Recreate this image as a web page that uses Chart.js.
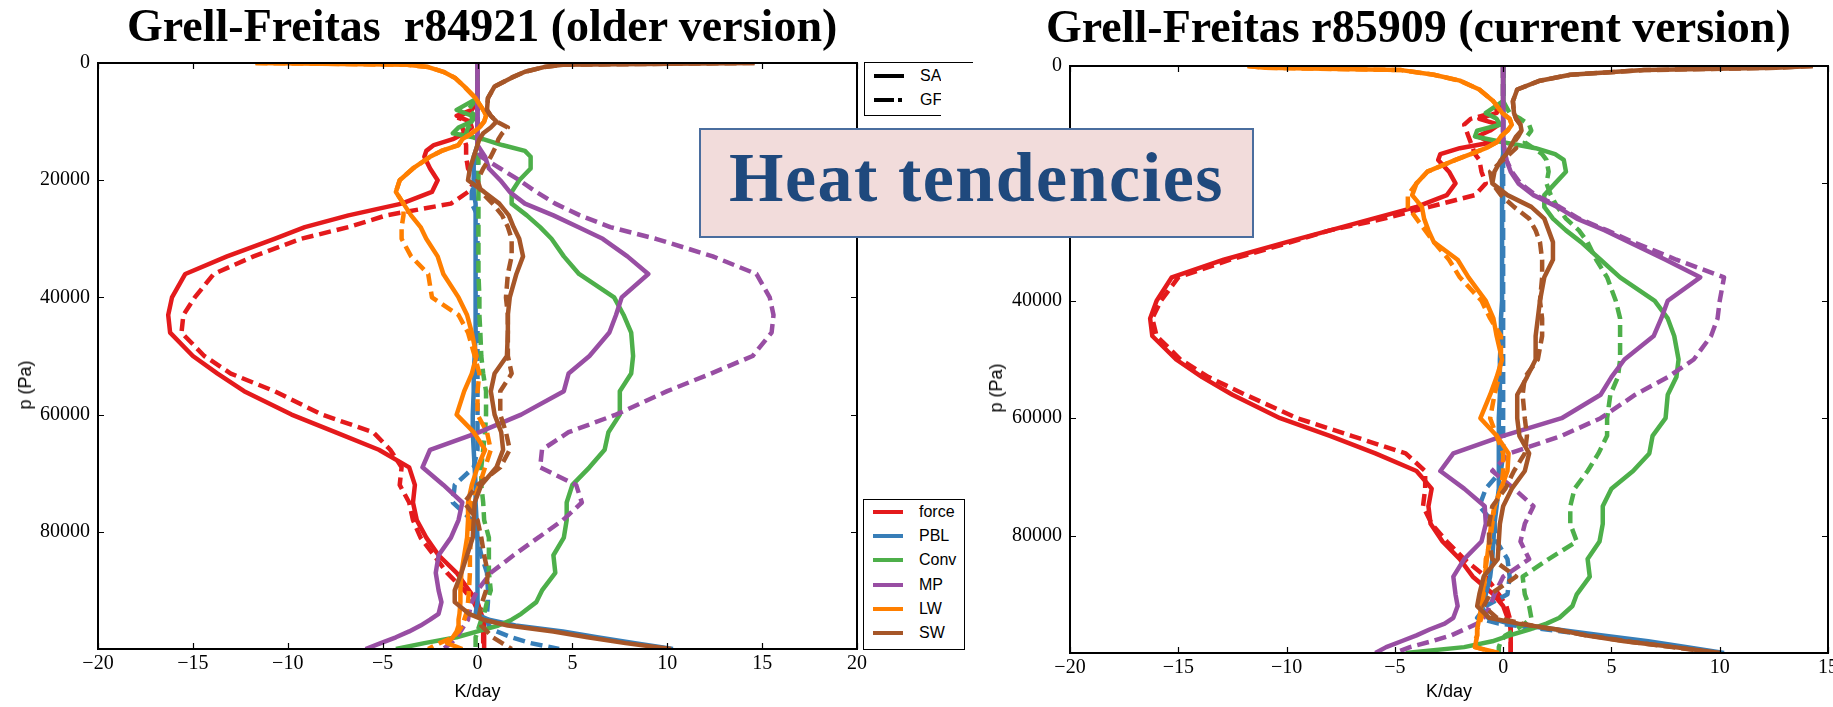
<!DOCTYPE html>
<html>
<head>
<meta charset="utf-8">
<title>Heat tendencies</title>
<script src="https://cdn.jsdelivr.net/npm/chart.js@4.4.1/dist/chart.umd.min.js"></script>
<style>
  html, body { margin: 0; padding: 0; background: #fff; overflow: hidden; }
  body { position: relative; width: 1833px; height: 707px; font-family: 'Liberation Sans', Arial, sans-serif; }
  canvas { position: absolute; top: 0; }
  #cOld { left: 0; }
  #cNew { left: 960px; }
  .title { position: absolute; font-family: 'Liberation Serif', serif; font-weight: bold; font-size: 46px;
           line-height: 46px; white-space: pre; color: #000; }
  .ylab { position: absolute; font-size: 18px; line-height: 18px; white-space: pre;
          transform: translate(-50%, -50%) rotate(-90deg); }
  .leg { position: absolute; border: 1px solid #000; background: #fff; overflow: hidden; }
  .leg .row { position: absolute; left: 0; height: 20px; font-size: 16px; line-height: 20px; }
  .leg .swatch { position: absolute; left: 9px; top: 8px; width: 30px; height: 4px; }
  .leg .txt { position: absolute; left: 55px; top: 0; white-space: pre; }
  #heatBox { position: absolute; left: 699px; top: 128px; width: 551px; height: 106px;
             background: #f2dcdb; border: 2px solid #4a6d9e; }
  #heatText { position: absolute; left: 699px; top: 143px; width: 555px; text-align: center;
              font-family: 'Liberation Serif', serif; font-weight: bold; font-size: 70px; line-height: 70px;
              letter-spacing: 1.5px; color: #1f497d; white-space: pre; }
</style>
</head>
<body>
<canvas id="cOld" width="880" height="707"></canvas>
<canvas id="cNew" width="900" height="707"></canvas>

<div class="title" style="left:127px; top:3px;">Grell-Freitas  r84921 (older version)</div>
<div class="title" style="left:1046px; top:4px;">Grell-Freitas r85909 (current version)</div>
<div class="ylab" style="left:25px; top:385px;">p (Pa)</div>
<div class="ylab" style="left:996px; top:388px;">p (Pa)</div>

<div id="styleLeg" class="leg" style="left:864px; top:62px; width:76px; height:52px; border-right:none;"></div>
<div style="position:absolute; left:940px; top:62px; width:33px; height:1px; background:#000;"></div>
<div id="varLeg" class="leg" style="left:863px; top:499px; width:100px; height:149px;"></div>

<div id="heatBox"></div>
<div id="heatText">Heat tendencies</div>

<script>
// pressure levels (Pa), shared by every profile
const P_LEVELS = [
  0, 300, 700, 1500, 2500, 4000, 6000, 8000, 9000, 10000,
  11000, 12000, 13000, 14000, 15000, 16000, 18000, 20000, 22000, 24000,
  26000, 28000, 30000, 33000, 36000, 40000, 43000, 46000, 50000, 53000,
  56000, 60000, 63000, 66000, 69000, 72000, 75000, 78000, 81000, 84000,
  87000, 90000, 92000, 94000, 95000, 96000, 97000, 98000, 99000, 100000
];

const VARS = ['force', 'PBL', 'Conv', 'MP', 'LW', 'SW'];
const COLORS = ['#e41a1c', '#377eb8', '#4daf4a', '#984ea3', '#ff7f00', '#a65628'];
const STYLES = ['SA', 'GF'];

// ---- r84921 (older version), K/day ----
const forceSA_old = [
  0, 0, 0, 0, 0, 0, 0, -0.3, -1.1, -0.4,
  -0.3, -0.7, -1.3, -2.3, -2.7, -2.8, -2.5, -2.1, -2.4, -4.0,
  -6.8, -9.1, -10.7, -13.2, -15.4, -16.1, -16.3, -16.2, -15.0, -13.7,
  -12.3, -9.8, -7.5, -5.2, -3.6, -3.3, -3.4, -3.2, -2.7, -2.05,
  -1.1, -0.45, 0, 0.2, 0.3, 0.35, 0.35, 0.35, 0.35, 0.35
];
const forceGF_old = [
  0, 0, 0, 0, 0, 0, 0, -0.3, -0.9, -1.0,
  -0.8, -0.7, -0.7, -0.6, -0.6, -0.6, -0.5, -0.1, -0.5, -1.4,
  -4.8, -6.8, -9.3, -11.8, -13.9, -14.9, -15.5, -15.6, -14.4, -13.0,
  -10.7, -8.2, -5.5, -4.6, -4.0, -4.1, -3.6, -3.4, -3.0, -2.3,
  -1.6, -0.7, -0.2, 0.1, 0.3, 0.3, 0.3, 0.3, 0.3, 0.3
];
const pblSA_old = [
  0, 0, 0, 0, 0, 0, 0, 0, 0, 0,
  0, 0, 0, 0, -0.1, -0.2, -0.2, -0.2, -0.2, -0.1,
  -0.1, -0.1, -0.1, -0.1, -0.1, -0.1, -0.1, -0.1, -0.15, -0.2,
  -0.2, -0.25, -0.25, -0.2, -0.15, -0.1, -0.1, -0.05, 0, 0,
  0, 0, 0, -0.1, 0.6, 2.0, 4.5, 6.3, 8.3, 10.3
];
const pblGF_old = [
  0, 0, 0, 0, 0, 0, 0, 0, 0, 0,
  0, 0, 0, 0, 0, 0, 0, -0.1, -0.3, -0.3,
  0, 0, 0, 0, 0, 0, 0, 0, 0, 0,
  0, 0, 0, 0, -0.2, -1.2, -1.3, -0.3, 0, 0.2,
  0.5, 0.55, 0.55, 0.5, 0.5, 0.6, 1.0, 1.8, 2.8, 4.3
];
const convSA_old = [
  0, 0, 0, 0, 0, 0, 0, -1.1, -0.3, -0.3,
  -1.0, -1.3, 0.3, 1.3, 2.5, 2.8, 2.8, 2.2, 1.8, 1.8,
  2.6, 3.3, 3.9, 4.55, 5.35, 7.2, 7.7, 8.1, 8.2, 8.1,
  7.5, 7.5, 6.9, 6.7, 5.9, 5.0, 4.7, 4.7, 4.55, 4.0,
  4.1, 3.4, 3.1, 2.3, 1.8, 1.1, 0, -1.1, -2.8, -4.3
];
const convGF_old = [
  0, 0, 0, 0, 0, 0, 0, -0.5, -0.1, -0.1,
  -0.5, -0.6, 0, 0, 0.05, 0.05, 0.05, 0.05, 0.05, 0.05,
  0.05, 0.05, 0.05, 0.05, 0.05, 0.1, 0.1, 0.15, 0.2, 0.3,
  0.45, 0.45, 0.4, 0.3, 0.2, 0.2, 0.3, 0.35, 0.6, 0.6,
  0.6, 0.7, 0.5, 0.35, 0.2, 0.1, 0, -0.1, -0.1, -0.1
];
const mpSA_old = [
  0, 0, 0, 0, 0, 0, 0, 0, 0, 0,
  0, 0, 0, 0, 0.2, 0.4, 0.6, 1.2, 1.7, 2.5,
  4.0, 5.3, 6.6, 7.9, 9.0, 7.6, 7.3, 6.95, 5.9, 4.8,
  4.55, 2.3, 0.1, -2.5, -2.9, -1.8, -0.8, -1.0, -1.4, -2.05,
  -2.2, -2.05, -1.9, -2.05, -2.5, -3.0, -3.6, -4.3, -5.1, -5.9
];
const mpGF_old = [
  0, 0, 0, 0, 0, 0, 0, 0, 0, 0,
  0, 0, 0, 0, 0, 0.2, 1.2, 2.2, 3.1, 4.1,
  5.4, 7.0, 9.4, 12.4, 14.7, 15.4, 15.6, 15.5, 14.5, 12.3,
  10.0, 7.3, 4.8, 3.4, 3.3, 5.2, 5.5, 4.5, 3.2, 1.9,
  0.7, 0, -0.3, -0.45, -0.5, -0.7, -0.9, -1.1, -1.4, -1.8
];
const lwSA_old = [
  -11.7, -3.7, -2.6, -1.8, -1.2, -0.7, -0.1, 0.3, 0.45, 0.35,
  0.1, -0.3, -0.8, -1.0, -1.9, -2.5, -3.4, -4.1, -4.3, -3.9,
  -3.5, -3.0, -2.7, -2.1, -1.8, -1.0, -0.55, -0.3, -0.05, -0.3,
  -0.7, -1.1, -0.2, 0.4, 0, -0.3, -0.5, -0.5, -0.55, -0.7,
  -0.85, -0.9, -0.9, -0.95, -1.0, -1.0, -1.1, -1.3, -1.6, -0.8
];
const lwGF_old = [
  -11.7, -3.7, -2.6, -1.8, -1.2, -0.7, -0.1, 0.3, 0.45, 0.35,
  0.1, -0.3, -0.8, -1.0, -1.9, -2.5, -3.4, -4.1, -4.3, -3.9,
  -3.9, -4.0, -4.0, -3.5, -2.6, -2.4, -1.0, -0.5, -0.15, 0.1,
  0, 0, 0.5, 0.7, 0.4, 0.1, -0.3, -0.35, -0.35, -0.4,
  -0.4, -0.45, -0.5, -0.6, -0.7, -0.8, -1.0, -1.3, -2.0, -2.6
];
const swSA_old = [
  14.6, 4.5, 3.5, 2.5, 1.8, 0.9, 0.55, 0.5, 0.7, 1.0,
  0.7, 0.3, 0.1, 0, -0.1, -0.2, -0.4, -0.5, 0.35, 1.15,
  1.65, 1.9, 2.2, 2.4, 2.05, 1.7, 1.6, 1.6, 1.55, 0.9,
  0.7, 0.9, 1.25, 1.35, 1.0, 0.2, -0.15, -0.2, -0.25, -0.55,
  -0.85, -1.2, -1.2, -0.45, 0.3, 1.6, 4.0, 5.8, 7.8, 10.2
];
const swGF_old = [
  14.6, 4.5, 3.5, 2.5, 1.8, 0.9, 0.55, 0.5, 0.7, 1.0,
  1.6, 1.3, 1.1, 1.0, 0.85, 0.7, 0.3, 0, 0.2, 0.8,
  1.3, 1.6, 1.8, 1.8, 1.6, 1.5, 1.6, 1.6, 1.6, 1.8,
  1.2, 1.2, 1.5, 1.7, 1.2, 0, -0.7, 0, 0.2, 0.35,
  0.55, 0.45, 0.25, 0.1, 0.1, 0.2, 0.5, 0.8, 1.3, 1.8
];

// ---- r85909 (current version), K/day ----
const forceSA_new = [
  0, 0, 0, 0, 0, 0, 0, -0.3, -1.1, -0.2,
  -0.6, -1.2, -0.5, -2.0, -2.9, -3.0, -2.5, -2.2, -2.6, -4.0,
  -6.0, -8.0, -10.0, -12.9, -15.3, -16.0, -16.3, -16.2, -15.1, -13.9,
  -12.5, -10.3, -8.0, -5.9, -4.0, -3.3, -3.45, -3.35, -2.8, -2.0,
  -1.4, -0.45, 0, 0.2, 0.3, 0.35, 0.35, 0.35, 0.35, 0.35
];
const forceGF_new = [
  0, 0, 0, 0, 0, 0, 0, -0.5, -1.5, -1.8,
  -1.7, -1.6, -1.5, -1.4, -1.3, -1.1, -1.0, -0.8, -1.3, -3.4,
  -5.5, -8.0, -9.8, -12.6, -15.0, -15.8, -16.2, -16.0, -14.9, -13.6,
  -11.9, -9.5, -7.0, -4.5, -3.6, -3.6, -3.7, -3.3, -2.6, -1.8,
  -0.8, -0.2, 0.15, 0.3, 0.35, 0.35, 0.35, 0.35, 0.35, 0.35
];
const pblSA_new = [
  0, 0, 0, 0, 0, 0, 0, 0, 0, 0,
  0, 0, 0, 0, 0, -0.05, -0.05, -0.05, -0.05, -0.05,
  -0.05, -0.05, -0.05, -0.05, -0.05, -0.05, -0.1, -0.1, -0.15, -0.15,
  -0.15, -0.2, -0.2, -0.2, -0.2, -0.2, -0.3, -0.4, -0.45, -0.5,
  -0.6, -0.8, -1.0, -0.7, 0.3, 2.5, 4.6, 6.7, 8.5, 10.2
];
const pblGF_new = [
  0, 0, 0, 0, 0, 0, 0, 0, 0, 0,
  0, 0, 0, 0, 0, 0, 0, 0, 0, 0,
  0, 0, 0, 0, 0, 0, 0, 0, 0, 0,
  0, 0, 0, 0, -0.1, -0.8, -1.1, -0.4, -0.3, 0.2,
  0.3, 0.2, -0.8, -1.2, -0.2, 2.0, 4.2, 6.2, 8.2, 10.0
];
const convSA_new = [
  0, 0, 0, 0, 0, 0, 0, -0.8, -0.3, -0.15,
  -1.2, -1.3, 0, 1.5, 2.4, 2.8, 2.9, 2.4, 1.9, 1.9,
  2.3, 2.9, 3.6, 4.5, 5.4, 7.0, 7.6, 7.9, 8.1, 8.0,
  7.6, 7.5, 6.9, 6.75, 6.0, 5.0, 4.6, 4.6, 4.45, 3.9,
  4.0, 3.4, 3.2, 2.6, 2.0, 1.2, 0.3, -0.5, -1.8, -4.5
];
const convGF_new = [
  0, 0, 0, 0, 0, 0, 0, 0.3, 0.8, 1.2,
  1.3, 1.1, 1.0, 1.4, 1.8, 2.0, 2.1, 2.0, 2.2, 2.5,
  2.9, 3.5, 3.9, 4.3, 4.8, 5.2, 5.4, 5.4, 5.4, 5.3,
  4.95, 4.8, 4.8, 4.4, 3.9, 3.3, 3.1, 3.1, 3.4, 2.1,
  0.9, 1.0, 1.2, 1.3, 1.0, 0.6, 0.1, -0.1, -0.2, -0.2
];
const mpSA_new = [
  0, 0, 0, 0, 0, 0, 0, 0, 0, 0,
  0, 0, 0, 0.05, 0.1, 0.15, 0.35, 0.7, 1.4, 2.5,
  3.4, 4.7, 5.8, 7.5, 9.1, 7.6, 7.3, 6.95, 5.6, 5.0,
  4.5, 2.7, 0.0, -2.3, -2.9, -1.8, -0.85, -0.8, -1.0, -1.8,
  -2.3, -2.2, -2.1, -2.3, -2.7, -3.4, -4.0, -4.7, -5.4, -5.9
];
const mpGF_new = [
  0, 0, 0, 0, 0, 0, 0, 0, 0, 0,
  0, 0, 0, 0.05, 0.1, 0.15, 0.4, 0.8, 1.5, 2.6,
  3.5, 4.8, 6.0, 8.0, 10.2, 10.0, 9.9, 9.6, 8.8, 7.6,
  6.1, 4.5, 2.7, 0.3, -0.5, 0.5, 1.4, 1.0, 0.8, 1.2,
  0.0, -0.4, -0.6, -0.9, -1.2, -1.8, -2.4, -3.3, -4.3, -5.0
];
const lwSA_new = [
  -11.8, -11.0, -4.7, -3.2, -2.0, -1.1, -0.45, -0.05, 0.3, 0.4,
  0.2, -0.1, -0.3, -0.8, -1.5, -2.2, -3.5, -4.0, -4.2, -3.75,
  -3.65, -3.45, -3.2, -2.1, -1.6, -0.8, -0.45, -0.3, -0.05, -0.3,
  -0.6, -1.05, -0.3, 0.25, 0.2, -0.1, -0.4, -0.55, -0.65, -0.75,
  -0.85, -0.95, -1.0, -1.1, -1.15, -1.2, -1.2, -1.25, -1.3, -0.2
];
const lwGF_new = [
  -11.8, -11.0, -4.7, -3.2, -2.0, -1.1, -0.45, -0.05, 0.3, 0.4,
  0.2, -0.1, -0.3, -0.8, -1.5, -2.2, -3.5, -4.0, -4.4, -4.4,
  -4.0, -3.6, -3.2, -2.5, -2.0, -1.0, -0.6, -0.1, -0.1, -0.2,
  -0.4, -0.6, -0.3, 0.0, 0.0, -0.1, -0.4, -0.5, -0.6, -0.8,
  -0.85, -0.9, -1.0, -1.0, -1.1, -1.2, -1.2, -1.3, -1.3, -0.3
];
const swSA_new = [
  14.3, 12.6, 6.5, 3.1, 1.7, 0.65, 0.45, 0.5, 0.6, 0.8,
  0.85, 0.6, 0.45, 0.3, 0.15, -0.1, -0.4, -0.5, 0.2, 1.3,
  1.9, 2.1, 2.3, 2.3, 1.9, 1.7, 1.6, 1.5, 1.5, 1.1,
  0.65, 0.65, 0.75, 1.2, 1.0, 0.4, 0.0, -0.15, -0.2, -0.25,
  -0.9, -1.1, -1.2, -0.65, 0.7, 2.5, 3.8, 5.6, 7.9, 10.05
];
const swGF_new = [
  14.3, 12.6, 6.5, 3.1, 1.7, 0.65, 0.45, 0.5, 0.6, 0.8,
  0.85, 0.7, 0.5, 0.6, 0.3, 0.0, -0.6, -0.5, -0.1, 0.5,
  1.2, 1.5, 1.7, 1.8, 1.8, 1.7, 1.8, 1.8, 1.6, 1.0,
  0.9, 1.0, 1.1, 1.0, 0.5, 0.1, -0.5, -0.65, -0.65, -0.5,
  0.6, -0.6, -0.9, -0.3, 0.9, 2.3, 3.9, 5.7, 7.8, 9.9
];

const OLD_SERIES = [
  [forceSA_old, forceGF_old], [pblSA_old, pblGF_old], [convSA_old, convGF_old],
  [mpSA_old, mpGF_old], [lwSA_old, lwGF_old], [swSA_old, swGF_old]
];
const NEW_SERIES = [
  [forceSA_new, forceGF_new], [pblSA_new, pblGF_new], [convSA_new, convGF_new],
  [mpSA_new, mpGF_new], [lwSA_new, lwGF_new], [swSA_new, swGF_new]
];

const DASH = [12, 6];

function buildDatasets(series) {
  const out = [];
  series.forEach((pair, v) => {
    pair.forEach((vals, s) => {
      const n = v * 2 + s;  // matplotlib draw sequence, later = on top
      out.push({
        label: VARS[v] + ' ' + STYLES[s],
        data: P_LEVELS.map((p, i) => ({ x: vals[i], y: p })),
        showLine: true,
        borderColor: COLORS[v],
        backgroundColor: COLORS[v],
        borderWidth: 4.5,
        borderDash: s ? DASH : [],
        borderJoinStyle: 'round',
        pointRadius: 0,
        tension: 0,
        order: 100 - n
      });
    });
  });
  return out;
}

// box around plot area plus inward tick marks on all four sides
const framePlugin = {
  id: 'frame',
  afterDatasetsDraw(chart) {
    const { ctx, chartArea: a, scales } = chart;
    const x = scales.x, y = scales.y;
    ctx.save();
    ctx.strokeStyle = '#000';
    ctx.lineWidth = 1.2;
    ctx.beginPath();
    x.ticks.forEach(t => {
      const px = Math.round(x.getPixelForValue(t.value)) + 0.5;
      ctx.moveTo(px, a.bottom); ctx.lineTo(px, a.bottom - 6);
      ctx.moveTo(px, a.top); ctx.lineTo(px, a.top + 6);
    });
    y.ticks.forEach(t => {
      const py = Math.round(y.getPixelForValue(t.value)) + 0.5;
      ctx.moveTo(a.left, py); ctx.lineTo(a.left + 6, py);
      ctx.moveTo(a.right, py); ctx.lineTo(a.right - 6, py);
    });
    ctx.stroke();
    ctx.lineWidth = 2;
    ctx.strokeRect(a.left, a.top, a.right - a.left, a.bottom - a.top);
    ctx.restore();
  }
};

const fmtX = v => v < 0 ? '\u2212' + Math.abs(v) : String(v);
const fmtY = v => v === 100000 ? '' : String(v);
const tickFont = { family: 'Liberation Serif', size: 20 };

function makeChart(id, series, xMax, yAxisW, xAxisH, pad) {
  return new Chart(document.getElementById(id), {
    type: 'scatter',
    data: { datasets: buildDatasets(series) },
    options: {
      responsive: false,
      animation: false,
      events: [],
      layout: { padding: pad },
      plugins: { legend: { display: false }, tooltip: { enabled: false } },
      scales: {
        x: {
          type: 'linear', min: -20, max: xMax,
          grid: { display: false, drawTicks: false },
          border: { display: false },
          ticks: { stepSize: 5, padding: 3, color: '#000', font: tickFont, callback: fmtX, maxRotation: 0, autoSkip: false },
          title: { display: true, text: 'K/day', color: '#000',
                   font: { family: 'Liberation Sans', size: 18 }, padding: { top: 0, bottom: 4 } },
          afterFit: s => { s.height = xAxisH; }
        },
        y: {
          type: 'linear', min: 0, max: 100000, reverse: true,
          grid: { display: false, drawTicks: false },
          border: { display: false },
          ticks: { stepSize: 20000, padding: 8, color: '#000', font: tickFont, callback: fmtY, autoSkip: false },
          afterFit: s => { s.width = yAxisW; }
        }
      }
    },
    plugins: [framePlugin]
  });
}

makeChart('cOld', OLD_SERIES, 20, 98, 58, { top: 63, right: 23, left: 0, bottom: 0 });
makeChart('cNew', NEW_SERIES, 15, 110, 54, { top: 66, right: 32, left: 0, bottom: 0 });

// legends
function addRow(box, top, text, swatchHtml) {
  const row = document.createElement('div');
  row.className = 'row';
  row.style.top = top + 'px';
  row.style.width = '100%';
  row.innerHTML = swatchHtml + '<span class="txt">' + text + '</span>';
  box.appendChild(row);
}
const varLeg = document.getElementById('varLeg');
VARS.forEach((name, i) => {
  addRow(varLeg, 2 + i * 24.2, name,
    '<span class="swatch" style="background:' + COLORS[i] + '"></span>');
});
const styleLeg = document.getElementById('styleLeg');
addRow(styleLeg, 3, STYLES[0], '<span class="swatch" style="background:#000"></span>');
addRow(styleLeg, 27, STYLES[1],
  '<span class="swatch" style="background:#000;width:20px"></span>' +
  '<span class="swatch" style="background:#000;left:33px;width:4px"></span>');
</script>
</body>
</html>
